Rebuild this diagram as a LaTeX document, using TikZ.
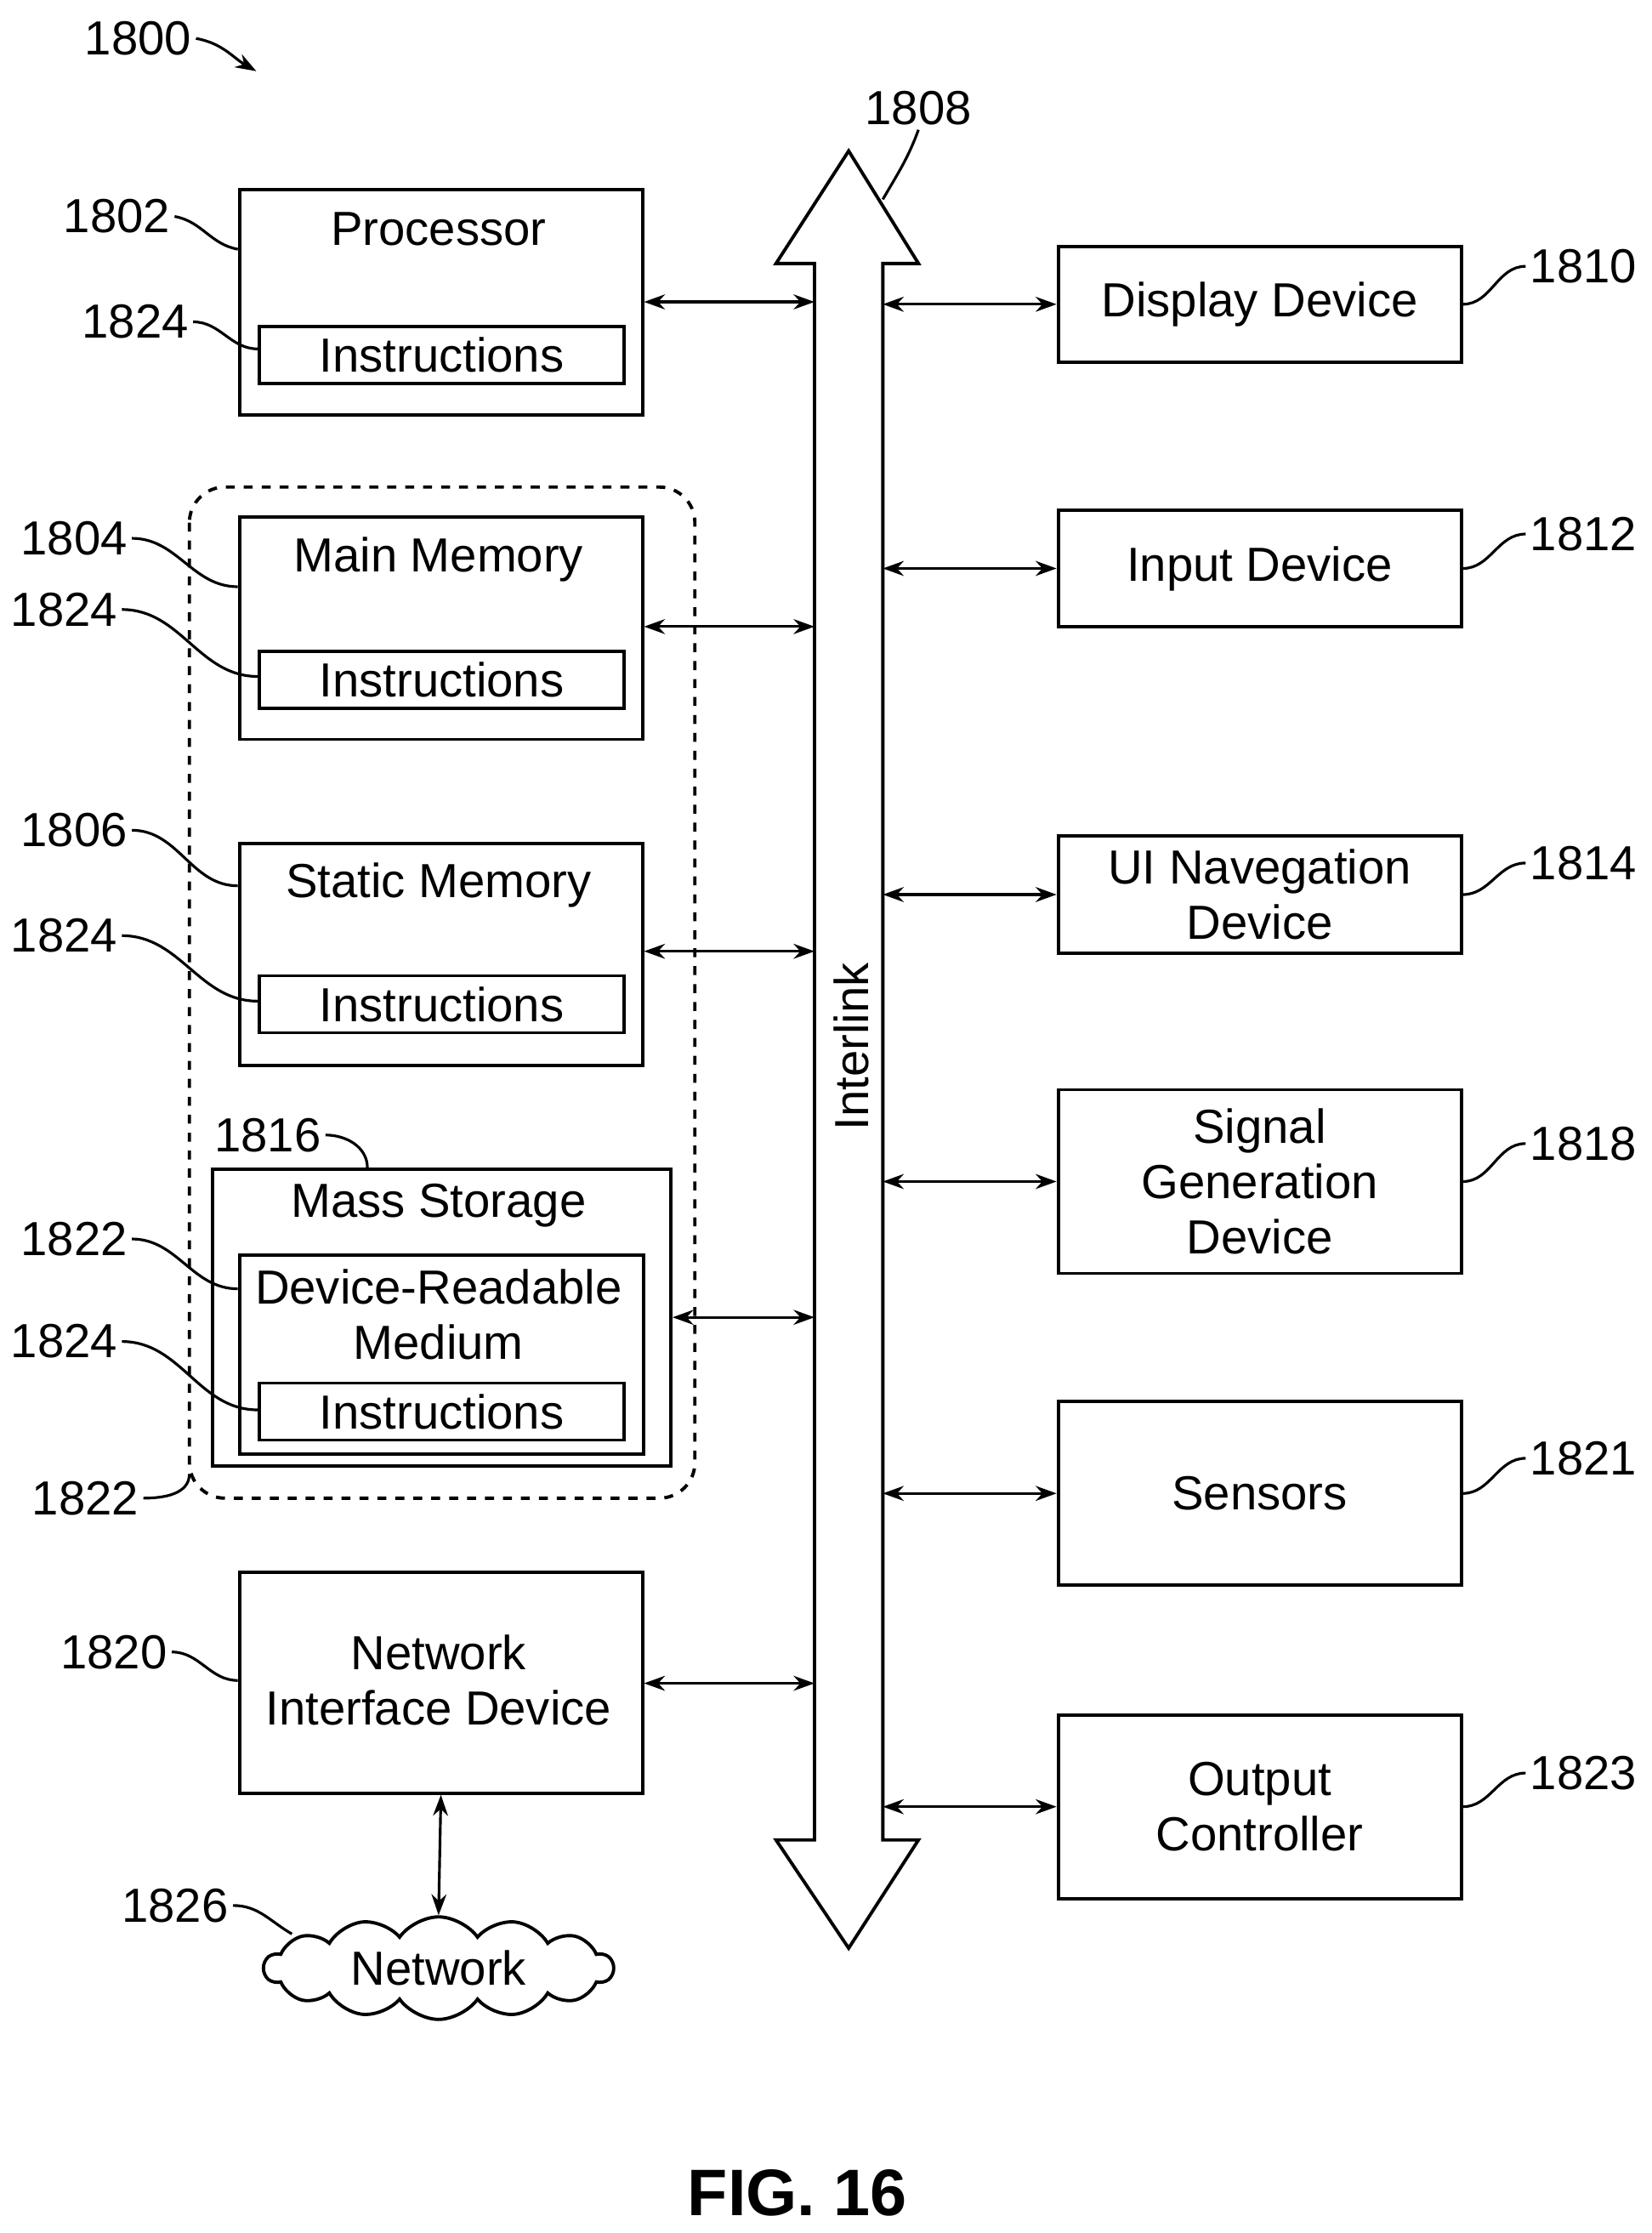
\documentclass[tikz,border=0pt]{standalone}
\usepackage{fontspec}
\setmainfont{Liberation Sans}
\usetikzlibrary{arrows.meta,shapes.symbols}
\def\pxu{0.01674cm}
\begin{document}
\begin{tikzpicture}[x=0.01674cm,y=-0.01674cm,
    font=\fontsize{16}{18.5}\selectfont, line width=1.1pt]
    % Styles
    \tikzset{
        box/.style={draw, rectangle, inner sep=0pt, anchor=north west},
        ttl/.style={anchor=north, inner sep=0pt, align=center, text depth=0pt},
        ref/.style={inner sep=1pt},
        lead/.style={line width=0.9pt},
        link/.style={{Stealth[length=7pt,width=5pt]}-{Stealth[length=7pt,width=5pt]}, line width=0.9pt}
    }
    \useasboundingbox (0,0) rectangle (1160,1568);

    % Left column
    \node[box, minimum width=283*\pxu, minimum height=158*\pxu] (proc) at (167,132) {};
    \node[ttl] (proct) at (308,148) {Processor};
    \node[box, minimum width=256*\pxu, minimum height=40*\pxu] (proci) at (181,228) {};
    \node (procit) at (proci) {Instructions};

    \draw[dashed, rounded corners=25*\pxu] (133,342) rectangle (488,1052);
    \coordinate (dash) at (133,1035);

    \node[box, minimum width=283*\pxu, minimum height=156*\pxu] (mainm) at (167,362) {};
    \node[ttl] (mainmt) at (308,376) {Main Memory};
    \node[box, minimum width=256*\pxu, minimum height=40*\pxu] (mainmi) at (181,456) {};
    \node (mainmit) at (mainmi) {Instructions};

    \node[box, minimum width=283*\pxu, minimum height=156*\pxu] (statm) at (167,591) {};
    \node[ttl] (statmt) at (308,605) {Static Memory};
    \node[box, minimum width=256*\pxu, minimum height=40*\pxu] (statmi) at (181,684) {};
    \node (statmit) at (statmi) {Instructions};

    \node[box, minimum width=322*\pxu, minimum height=208*\pxu] (mass) at (148,820) {};
    \node[ttl] (masst) at (308,830) {Mass Storage};
    \node[box, minimum width=284*\pxu, minimum height=140*\pxu] (drm) at (167,880) {};
    \node[ttl] (drmt) at (308,890) {Device-Readable\\Medium};
    \node[box, minimum width=256*\pxu, minimum height=40*\pxu] (drmi) at (181,970) {};
    \node (drmit) at (drmi) {Instructions};

    \node[box, minimum width=283*\pxu, minimum height=155*\pxu, align=center] (nid) at (167,1103) {};
    \node[align=center] (nidt) at (308,1180) {Network\\Interface Device};

    \node[draw, cloud, cloud puffs=14, cloud puff arc=110, aspect=3.5,
        minimum width=245*\pxu, minimum height=72*\pxu, inner sep=0pt] (net) at (308,1382) {Network};
    \draw[link] (nid.south) -- (net.north);

    % Interlink bus
    \draw (572,185) -- (545,185) -- (596,106) -- (645,185) -- (620,185)
        -- (620,1292) -- (645,1292) -- (596,1368) -- (545,1292) -- (572,1292) -- cycle;
    \node[rotate=90] (bus) at (598,735) {Interlink};
    \foreach \yy/\nm in {212/proc,440/mainm,668/statm,925/mass,1182/nid}
        \draw[link] (\nm.east |- 0,\yy) -- (572,\yy);

    % Right column
    \node[box, minimum width=283*\pxu, minimum height=81*\pxu] (disp) at (742,172) {};
    \node (dispt) at (disp) {Display Device};
    \node[box, minimum width=283*\pxu, minimum height=82*\pxu] (inp) at (742,357) {};
    \node (inpt) at (inp) {Input Device};
    \node[box, minimum width=283*\pxu, minimum height=82*\pxu] (uin) at (742,586) {};
    \node[align=center] (uint) at (uin) {UI Navegation\\Device};
    \node[box, minimum width=283*\pxu, minimum height=129*\pxu] (sig) at (742,764) {};
    \node[align=center] (sigt) at (sig) {Signal\\Generation\\Device};
    \node[box, minimum width=283*\pxu, minimum height=129*\pxu] (sens) at (742,983) {};
    \node (senst) at (sens) {Sensors};
    \node[box, minimum width=283*\pxu, minimum height=129*\pxu] (outc) at (742,1203) {};
    \node[align=center] (outct) at (outc) {Output\\Controller};
    \foreach \nm in {disp,inp,uin,sig,sens,outc}
        \draw[link] (620,0 |- \nm.west) -- (\nm.west);

    % Reference numerals
    \node[ref] (r1800) at (97,27) {1800};
    \coordinate (a1800) at (180,50);
    \draw[lead, -{Stealth[length=7pt,width=5pt]}] (r1800.east) to[out=-10,in=150] (a1800);
    \node[ref] (r1808) at (645,76) {1808};
    \draw[lead] (r1808.south) to[out=-110,in=60] (620,140);
    \node[ref] (r1802) at (82,152) {1802};
    \draw[lead] (r1802.east) to[out=-10,in=170] (167,175);
    \node[ref] (r1824a) at (95,226) {1824};
    \draw[lead] (r1824a.east) to[out=0,in=180] (181,245);
    \node[ref] (r1804) at (52,378) {1804};
    \draw[lead] (r1804.east) to[out=0,in=180] (167,412);
    \node[ref] (r1824b) at (45,428) {1824};
    \draw[lead] (r1824b.east) to[out=0,in=180] (181,475);
    \node[ref] (r1806) at (52,583) {1806};
    \draw[lead] (r1806.east) to[out=0,in=180] (167,622);
    \node[ref] (r1824c) at (45,657) {1824};
    \draw[lead] (r1824c.east) to[out=0,in=180] (181,703);
    \node[ref] (r1816) at (188,797) {1816};
    \draw[lead] (r1816.east) to[out=0,in=90] (258,820);
    \node[ref] (r1822a) at (52,870) {1822};
    \draw[lead] (r1822a.east) to[out=0,in=180] (167,905);
    \node[ref] (r1824d) at (45,942) {1824};
    \draw[lead] (r1824d.east) to[out=0,in=180] (181,990);
    \node[ref] (r1822b) at (60,1052) {1822};
    \draw[lead] (r1822b.east) to[out=0,in=-90] (dash);
    \node[ref] (r1820) at (80,1160) {1820};
    \draw[lead] (r1820.east) to[out=0,in=180] (167,1180);
    \node[ref] (r1826) at (123,1338) {1826};
    \draw[lead] (r1826.east) to[out=0,in=150] (205,1358);
    \foreach \nm/\num/\yy in {disp/1810/187,inp/1812/375,uin/1814/606,sig/1818/803,sens/1821/1024,outc/1823/1245}{
        \node[ref] (r\num) at (1112,\yy) {\num};
        \draw[lead] (\nm.east) to[out=0,in=180] (r\num.west);
    }

    \node[font=\bfseries\fontsize{22}{24}\selectfont] (fig) at (560,1540) {FIG. 16};
\end{tikzpicture}
\end{document}
